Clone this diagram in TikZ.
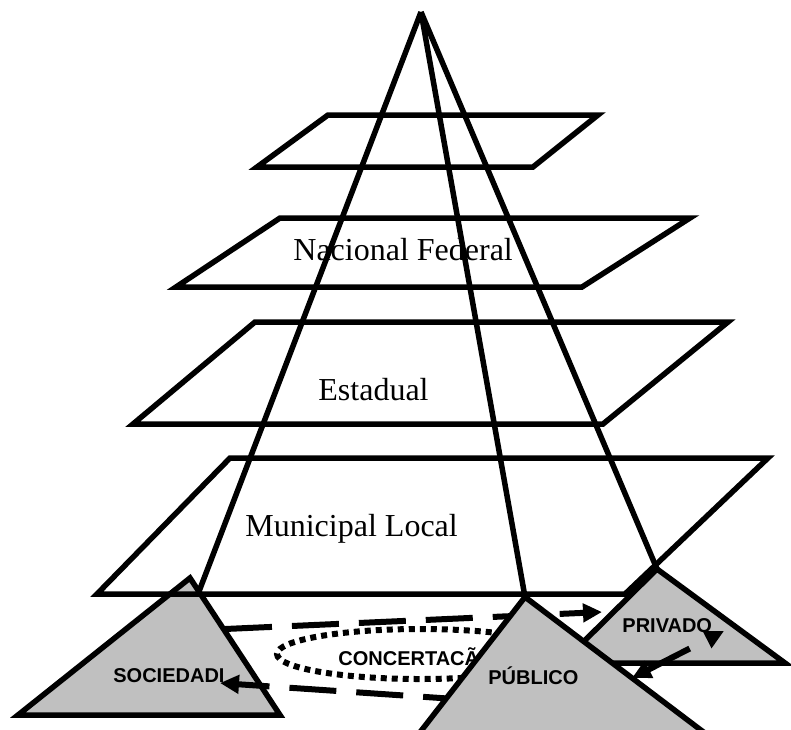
\documentclass[tikz,border=0pt]{standalone}
\usepackage{fontspec}
\setmainfont{Liberation Serif}
\setsansfont{Liberation Sans}
\usetikzlibrary{positioning}
\usetikzlibrary{arrows.meta}
\usetikzlibrary{shapes}
\definecolor{actorgray}{RGB}{192,192,192}

\tikzset{
  layer/.style={draw, line width=2.75pt, line join=miter},
  ridge/.style={line width=2.75pt},
  actor/.style={draw, fill=actorgray, line width=2.75pt, line join=miter},
  flow/.style={line width=3pt, dash pattern=on 23.5pt off 10pt, >={Triangle[length=9.5pt, width=9pt]}},
  levellabel/.style={anchor=base west, inner sep=0pt, font=\fontsize{16}{19}\selectfont},
  actorlabel/.style={anchor=base west, inner sep=0pt, font=\sffamily\bfseries\fontsize{10}{12}\selectfont},
}

\begin{document}
\begin{tikzpicture}[x=0.5pt, y=-0.5pt]
        \useasboundingbox (0,0) rectangle (791,729);

        % points %
        \coordinate (apex) at (421,12);
        \coordinate (socTop) at (190,578);
        \coordinate (pubTop) at (525,597);
        \coordinate (priTop) at (657,569);
        \coordinate (baseL) at (198,594);

        % actors under the levels %
        \draw[actor] (18,715) -- (socTop) -- (280,715) -- cycle;
        \draw[actor] (562,663) -- (priTop) -- (785,663) -- cycle;

        % levels %
        \draw[layer] (257,167) -- (533,167) -- (598,115) -- (328,115) -- cycle;
        \draw[layer] (176,287) -- (582,287) -- (690,218) -- (280,218) -- cycle;
        \draw[layer] (133,424) -- (603,424) -- (728,322) -- (255,322) -- cycle;
        \draw[layer] (97,594) -- (625,594) -- (768,458) -- (230,458) -- cycle;

        % ridges %
        \draw[ridge] (apex) -- (baseL);
        \draw[ridge] (apex) -- (pubTop);
        \draw[ridge] (apex) -- (priTop);

        % concertacao %
        \node[ellipse, draw, line width=3pt, dash pattern=on 3pt off 2.5pt,
              minimum width=143pt, minimum height=25pt, inner sep=0pt] (ring) at (420,654) {};
        \node[actorlabel] (concert) at (338,665) {CONCERTACÃ};

        % flows %
        \coordinate (soc1) at (225,629);
        \coordinate (pri1) at (602,612);
        \coordinate (pub1) at (470,700);
        \coordinate (soc2) at (220,683);
        \coordinate (pub2) at (632,678);
        \coordinate (pri2) at (724,631);
        \draw[flow, ->] (soc1) -- (pri1);
        \draw[flow, ->] (pub1) -- (soc2);
        \draw[flow, <->] (pub2) -- (pri2);

        % public on top %
        \draw[actor] (414,740) -- (pubTop) -- (714,740) -- cycle;

        % labels %
        \node[levellabel] (federal) at (293,260) {Nacional Federal};
        \node[levellabel] (estadual) at (318,400) {Estadual};
        \node[levellabel] (municipal) at (245,536) {Municipal Local};
        \node[actorlabel] (sociedade) at (113,682) {SOCIEDADI};
        \node[actorlabel] (publico) at (488,684) {PÚBLICO};
        \node[actorlabel] (privado) at (622,632) {PRIVADO};
\end{tikzpicture}
\end{document}
